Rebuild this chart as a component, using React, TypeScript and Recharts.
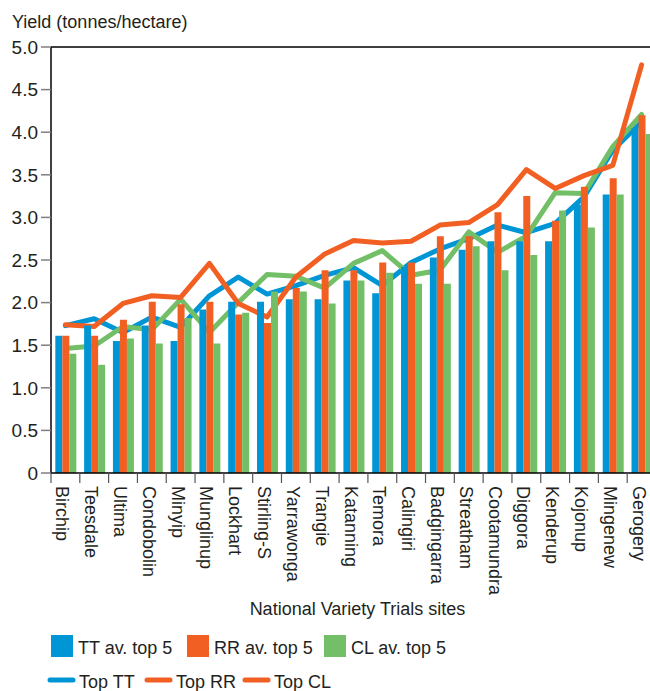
import {Bar, ComposedChart, Legend, Line, ReferenceLine, XAxis, YAxis} from "recharts";

// NVT sites, sorted by yield
const sites = [
    "Birchip", "Teesdale", "Ultima", "Condobolin", "Minyip", "Munglinup", "Lockhart",
    "Stirling-S", "Yarrawonga", "Trangie", "Katanning", "Temora", "Calingiri", "Badgingarra",
    "Streatham", "Cootamundra", "Diggora", "Kenderup", "Kojonup", "Mingenew", "Gerogery",
];

// average of the top 5 varieties per herbicide group (t/ha)
const ttAvg = [1.61, 1.73, 1.55, 1.73, 1.55, 1.92, 2.01, 2.01, 2.04, 2.04, 2.26, 2.11, 2.42, 2.53, 2.62, 2.72, 2.72, 2.72, 3.15, 3.27, 4.05];
const rrAvg = [1.61, 1.61, 1.80, 2.01, 1.98, 2.01, 1.86, 1.76, 2.17, 2.38, 2.38, 2.47, 2.47, 2.78, 2.78, 3.06, 3.25, 2.96, 3.36, 3.46, 4.20];
const clAvg = [1.40, 1.27, 1.58, 1.52, 1.82, 1.52, 1.88, 2.13, 2.13, 1.99, 2.26, 2.35, 2.22, 2.22, 2.66, 2.38, 2.56, 3.08, 2.88, 3.27, 3.98];

// best single variety per group (t/ha)
const topTT = [1.73, 1.81, 1.65, 1.83, 1.71, 2.08, 2.30, 2.10, 2.20, 2.32, 2.41, 2.20, 2.47, 2.63, 2.75, 2.91, 2.82, 2.93, 3.24, 3.79, 4.12];
const topRR = [1.74, 1.72, 1.99, 2.08, 2.06, 2.46, 1.99, 1.83, 2.30, 2.57, 2.73, 2.70, 2.72, 2.91, 2.94, 3.15, 3.56, 3.34, 3.49, 3.61, 4.79];
const topCL = [1.46, 1.49, 1.72, 1.68, 2.04, 1.65, 2.00, 2.33, 2.31, 2.17, 2.46, 2.61, 2.32, 2.38, 2.83, 2.59, 2.78, 3.29, 3.28, 3.83, 4.21];

const yTicks = [0, 0.5, 1, 1.5, 2, 2.5, 3, 3.5, 4, 4.5, 5];
const yTickLabels = ["0", "0.5", "1.0", "1.5", "2.0", "2.5", "3.0", "3.5", "4.0", "4.5", "5.0"];

const barLegend = ["TT av. top 5", "RR av. top 5", "CL av. top 5"];
const lineLegend = ["Top TT", "Top RR", "Top CL"];

const FONT = "'Liberation Sans', Arial, sans-serif";
const INK = "#231f20";
const BLUE = "#0096d6";
const ORANGE = "#f15f22";
const GREEN = "#72bf67";

const data = sites.map((site, i) => ({
    site,
    ttAvg: ttAvg[i],
    rrAvg: rrAvg[i],
    clAvg: clAvg[i],
    topTT: topTT[i],
    topRR: topRR[i],
    topCL: topCL[i],
}));

// site name written downwards, tick mark on the left edge of each band
function SiteTick({x, y, payload}: any) {
    const half = payload.offset ?? 14.4;
    return (
        <g>
            <line x1={x - half} x2={x - half} y1={y} y2={y + 10} stroke="#555" strokeWidth={1.2}/>
            <text transform={`translate(${x - 9},${y + 13}) rotate(90)`} fontSize={18} fontFamily={FONT} fill={INK}>
                {payload.value}
            </text>
        </g>
    );
}

function ChartLegend() {
    const squareX = [51, 187, 324];
    const squareColors = [BLUE, ORANGE, GREEN];
    const dashX = [50, 147, 245];
    // the legend swatch for Top CL is printed orange
    const dashColors = [BLUE, ORANGE, ORANGE];
    return (
        <svg width={650} height={63} style={{display: "block"}}>
            {barLegend.map((label, i) => (
                <g key={label}>
                    <rect x={squareX[i]} y={7} width={22} height={22} fill={squareColors[i]}/>
                    <text x={squareX[i] + 27} y={26} fontSize={18} fontFamily={FONT} fill={INK}>{label}</text>
                </g>
            ))}
            {lineLegend.map((label, i) => (
                <g key={label}>
                    <line x1={dashX[i]} x2={dashX[i] + 23} y1={52} y2={52} stroke={dashColors[i]} strokeWidth={5}
                          strokeLinecap="round"/>
                    <text x={dashX[i] + 29} y={60} fontSize={18} fontFamily={FONT} fill={INK}>{label}</text>
                </g>
            ))}
        </svg>
    );
}

export default function App() {
    return (
        <div style={{position: "absolute", left: 0, top: 0, width: 650, height: 691, overflow: "hidden", background: "#fff", fontFamily: FONT}}>
            <ComposedChart width={660} height={691} data={data} margin={{top: 47, right: 4, left: 0, bottom: 0}}
                           barCategoryGap="15%" barGap={0}>
                <XAxis dataKey="site" interval={0} tickLine={false} tickSize={0} tickMargin={0} height={155}
                       axisLine={{stroke: "#000", strokeWidth: 1.5}} tick={<SiteTick/>}
                       label={{
                           content: ({viewBox}: any) => (
                               <text x={viewBox.x + viewBox.width / 2 + 4} y={viewBox.y + 142} textAnchor="middle"
                                     fontSize={18} fontFamily={FONT} fill={INK}>
                                   National Variety Trials sites
                               </text>
                           ),
                       }}/>
                <YAxis width={51} domain={[0, 5]} ticks={yTicks} interval={0} tickSize={10} tickMargin={3}
                       tickFormatter={(v: number) => yTickLabels[yTicks.indexOf(v)]}
                       tick={{fontSize: 19, fontFamily: FONT, fill: INK}}
                       tickLine={{stroke: "#808080", strokeWidth: 1.5}}
                       axisLine={{stroke: "#000", strokeWidth: 1.5}}
                       label={{
                           content: () => (
                               <text x={12} y={28} fontSize={18} fontFamily={FONT} fill={INK}>
                                   Yield (tonnes/hectare)
                               </text>
                           ),
                       }}/>
                <ReferenceLine y={5} stroke="#000" strokeWidth={1.5}/>
                <Line dataKey="topTT" name="Top TT" type="linear" stroke={BLUE} strokeWidth={5} dot={false}
                      strokeLinecap="round" strokeLinejoin="round" isAnimationActive={false} zIndex={250}/>
                <Line dataKey="topCL" name="Top CL" type="linear" stroke={GREEN} strokeWidth={5} dot={false}
                      strokeLinecap="round" strokeLinejoin="round" isAnimationActive={false} zIndex={250}/>
                <Line dataKey="topRR" name="Top RR" type="linear" stroke={ORANGE} strokeWidth={5} dot={false}
                      strokeLinecap="round" strokeLinejoin="round" isAnimationActive={false} zIndex={250}/>
                <Bar dataKey="ttAvg" name="TT av. top 5" fill={BLUE} isAnimationActive={false}/>
                <Bar dataKey="rrAvg" name="RR av. top 5" fill={ORANGE} isAnimationActive={false}/>
                <Bar dataKey="clAvg" name="CL av. top 5" fill={GREEN} isAnimationActive={false}/>
                <Legend verticalAlign="bottom" align="left" content={() => <ChartLegend/>}/>
            </ComposedChart>
        </div>
    );
}
